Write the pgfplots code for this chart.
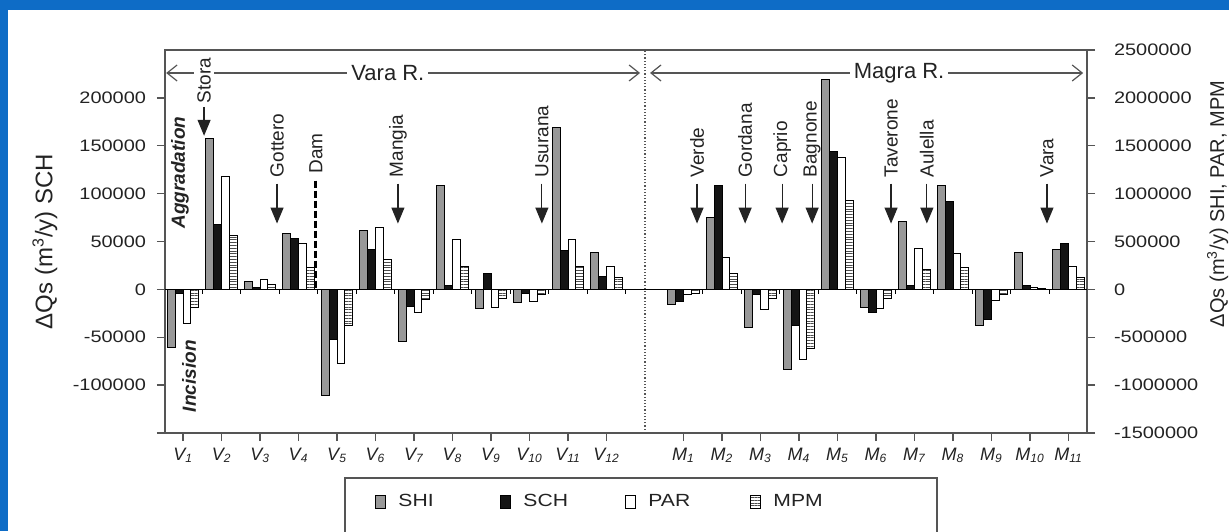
\documentclass[border=0pt]{standalone}
\usepackage{fontspec}
\setmainfont{Liberation Sans}
\newfontfamily\tf{Liberation Sans}[FakeStretch=1.2]
\usepackage{pgfplots}
\usepackage{pgfplotstable}
\pgfplotsset{compat=1.18}
\usetikzlibrary{patterns.meta,arrows.meta}
\definecolor{frameblue}{RGB}{14,108,198}
\definecolor{shigrey}{RGB}{152,152,152}
\definecolor{axgrey}{RGB}{85,85,85}
\definecolor{txt}{RGB}{35,35,35}

\pgfplotstableread{
x SHI SCH PAR MPM
1 -602000 -4000 -355000 -190000
2 1575000 68000 1178000 565000
3 86000 2400 104000 52000
4 587000 52800 482000 232000
5 -1109000 -52600 -776000 -380000
6 615000 41300 642000 312000
7 -544000 -17900 -241000 -110000
8 1081000 3600 523000 237000
9 -196000 16900 -190000 -100000
10 -141000 -4000 -124000 -55000
11 1690000 40400 523000 240000
12 383000 13300 237000 127000
14 -161000 -12700 -57000 -40000
15 747000 108500 330000 164000
16 -398000 -5200 -210000 -100000
17 -838000 -38200 -732000 -620000
18 2188000 143500 1377000 929000
19 -192000 -24100 -200000 -100000
20 706000 3600 429000 209000
21 1090000 91500 375000 232000
22 -382000 -31200 -117000 -57000
23 383000 4300 18000 8000
24 420000 48000 235000 125000
}\data

\newcommand\Vl[1]{\textit{V\textsubscript{#1}}}
\newcommand\Ml[1]{\textit{M\textsubscript{#1}}}
\newcommand\trib[2]{%
  \node[rotate=90,anchor=west,inner sep=0pt,font=\fontsize{9.5}{11}\selectfont,text=txt] at (axis cs:#1,1167000) {#2};
  \draw[txt,line width=0.6pt,-{Triangle[length=8pt,width=6.5pt]}] (axis cs:#1,1104000) -- (axis cs:#1,687500);}

\pgfplotsset{
  mybarleg/.style={legend image code/.code={\draw[##1,/tikz/.cd,bar shift=0pt] (0pt,-3.25pt) rectangle (5pt,3.25pt);}},
}

\begin{document}
\begin{tikzpicture}
\begin{scope}[x=0.5pt,y=0.5pt]
\fill[frameblue] (0,0) rectangle (1229,531);
\fill[white] (8,0) rectangle (1229,521);
\end{scope}

% left axis: SCH
\begin{axis}[
  at={(82.5pt,49pt)}, anchor=south west,
  scale only axis, width=461pt, height=191.5pt,
  xmin=0.53, xmax=24.48, ymin=-150000, ymax=250000,
  clip=false, scaled y ticks=false,
  axis line style={axgrey,line width=1pt},
  tick align=outside, major tick length=4pt,
  tick style={axgrey,line width=0.7pt},
  xtick={1,2,3,4,5,6,7,8,9,10,11,12,14,15,16,17,18,19,20,21,22,23,24},
  xticklabels={\Vl{1},\Vl{2},\Vl{3},\Vl{4},\Vl{5},\Vl{6},\Vl{7},\Vl{8},\Vl{9},\Vl{10},\Vl{11},\Vl{12},\Ml{1},\Ml{2},\Ml{3},\Ml{4},\Ml{5},\Ml{6},\Ml{7},\Ml{8},\Ml{9},\Ml{10},\Ml{11}},
  xtick pos=left, ytick pos=left,
  ytick={-150000,-100000,-50000,0,50000,100000,150000,200000},
  yticklabels={,-100000,-50000,0,50000,100000,150000,200000},
  yticklabel style={font=\tf\fontsize{8.3}{10}\selectfont, text=txt, xshift=-2pt},
  xticklabel style={font=\fontsize{9}{10}\selectfont, text=txt},
]
\addplot[ybar, bar width=3.9pt, bar shift=-1.95pt, fill=black!92, draw=black, line width=0.5pt] table[x=x,y=SCH]{\data};
\end{axis}

% right axis: SHI, PAR, MPM
\begin{axis}[
  at={(82.5pt,49pt)}, anchor=south west,
  scale only axis, width=461pt, height=191.5pt,
  xmin=0.53, xmax=24.48, ymin=-1500000, ymax=2500000,
  clip=false, scaled y ticks=false,
  axis x line=none, axis y line*=right,
  axis line style={axgrey,line width=1pt},
  tick align=outside, major tick length=4pt,
  tick style={axgrey,line width=0.7pt},
  ytick={-1500000,-1000000,-500000,0,500000,1000000,1500000,2000000,2500000},
  yticklabels={-1500000,-1000000,-500000,0,500000,1000000,1500000,2000000,2500000},
  yticklabel style={font=\tf\fontsize{8.3}{10}\selectfont, text=txt, xshift=6pt},
  legend columns=4,
  legend style={at={(axis description cs:0.2278,-0.180)}, anchor=west, draw=none, fill=none, inner sep=0pt,
    font=\tf\fontsize{8.8}{10}\selectfont, text=txt,
    nodes={inner xsep=6pt, inner ysep=1pt, text width=45pt, align=left}},
]
\addplot[ybar, bar width=3.9pt, bar shift=-5.85pt, fill=shigrey, draw=black, line width=0.5pt, mybarleg] table[x=x,y=SHI]{\data};
\addlegendimage{ybar, fill=black!92, draw=black, line width=0.5pt, mybarleg}
\addplot[ybar, bar width=3.9pt, bar shift=1.95pt, fill=white, draw=black, line width=0.5pt, mybarleg] table[x=x,y=PAR]{\data};
\addplot[ybar, bar width=3.9pt, bar shift=5.85pt, pattern={Lines[distance=1.4pt,line width=0.45pt]}, pattern color=black!70, draw=black, line width=0.5pt, mybarleg] table[x=x,y=MPM]{\data};
\legend{SHI,SCH,PAR,MPM}

% zero line, separators, divider
\draw[black, line width=0.8pt] (axis cs:0.53,0) -- (axis cs:24.48,0);
\pgfplotsinvokeforeach{1.5,2.5,3.5,4.5,5.5,6.5,7.5,8.5,9.5,10.5,11.5,12.5,14.5,15.5,16.5,17.5,18.5,19.5,20.5,21.5,22.5,23.5}{\draw[black,line width=0.6pt] (axis cs:#1,0) -- (axis cs:#1,-45000);}
\draw[axgrey, densely dotted, line width=0.6pt] (axis cs:13,-1500000) -- (axis cs:13,2500000);

% river arrows
\draw[axgrey, line width=0.6pt, {Straight Barb[length=5pt,width=8pt]}-{Straight Barb[length=5pt,width=8pt]}] (axis cs:0.56,2260000) -- (axis cs:12.87,2260000);
\node[fill=white, inner xsep=2pt, inner ysep=1pt, font=\fontsize{11}{13}\selectfont, text=txt] at (axis cs:6.32,2260000) {Vara R.};
\draw[axgrey, line width=0.6pt, {Straight Barb[length=5pt,width=8pt]}-{Straight Barb[length=5pt,width=8pt]}] (axis cs:13.13,2260000) -- (axis cs:24.38,2260000);
\node[fill=white, inner xsep=2pt, inner ysep=1pt, font=\fontsize{11}{13}\selectfont, text=txt] at (axis cs:19.6,2260000) {Magra R.};

% Stora
\node[rotate=90,anchor=west,inner xsep=0pt,inner ysep=1.5pt,fill=white,font=\fontsize{9.5}{11}\selectfont,text=txt] at (axis cs:1.545,1937500) {Stora};
\draw[txt,line width=0.6pt,-{Triangle[length=8pt,width=6.5pt]}] (axis cs:1.545,1906000) -- (axis cs:1.545,1604000);

\trib{3.44}{Gottero}
\trib{6.58}{Mangia}
\trib{10.32}{Usurana}
\trib{14.35}{Verde}
\trib{15.6}{Gordana}
\trib{16.56}{Caprio}
\trib{17.34}{Bagnone}
\trib{19.39}{Taverone}
\trib{20.32}{Aulella}
\trib{23.44}{Vara}

% Dam
\node[rotate=90,anchor=west,inner sep=0pt,font=\fontsize{9.5}{11}\selectfont,text=txt] at (axis cs:4.45,1208000) {Dam};
\draw[black, line width=1.5pt, dash pattern=on 3.5pt off 1.5pt] (axis cs:4.45,1135000) -- (axis cs:4.45,0);

\node[rotate=90, font=\bfseries\itshape\fontsize{9.5}{11}\selectfont, text=txt] at (axis cs:0.92,1219000) {Aggradation};
\node[rotate=90, font=\bfseries\itshape\fontsize{9.5}{11}\selectfont, text=txt] at (axis cs:1.156,-906000) {Incision};
\end{axis}

\begin{scope}[x=0.5pt,y=0.5pt]
\node[rotate=90, font=\fontsize{12}{14}\selectfont, text=txt] at (45,289.5) {ΔQs (m\textsuperscript{3}/y) SCH};
\node[rotate=90, anchor=base, font=\fontsize{10}{12}\selectfont, text=txt] at (1224,327) {ΔQs (m\textsuperscript{3}/y) SHI, PAR, MPM};
\draw[axgrey, line width=0.7pt] (345,-10) -- (345,53) -- (937,53) -- (937,-10);
\end{scope}
\pgfresetboundingbox
\useasboundingbox (0,0) rectangle (614.5pt,265.5pt);
\end{tikzpicture}
\end{document}
